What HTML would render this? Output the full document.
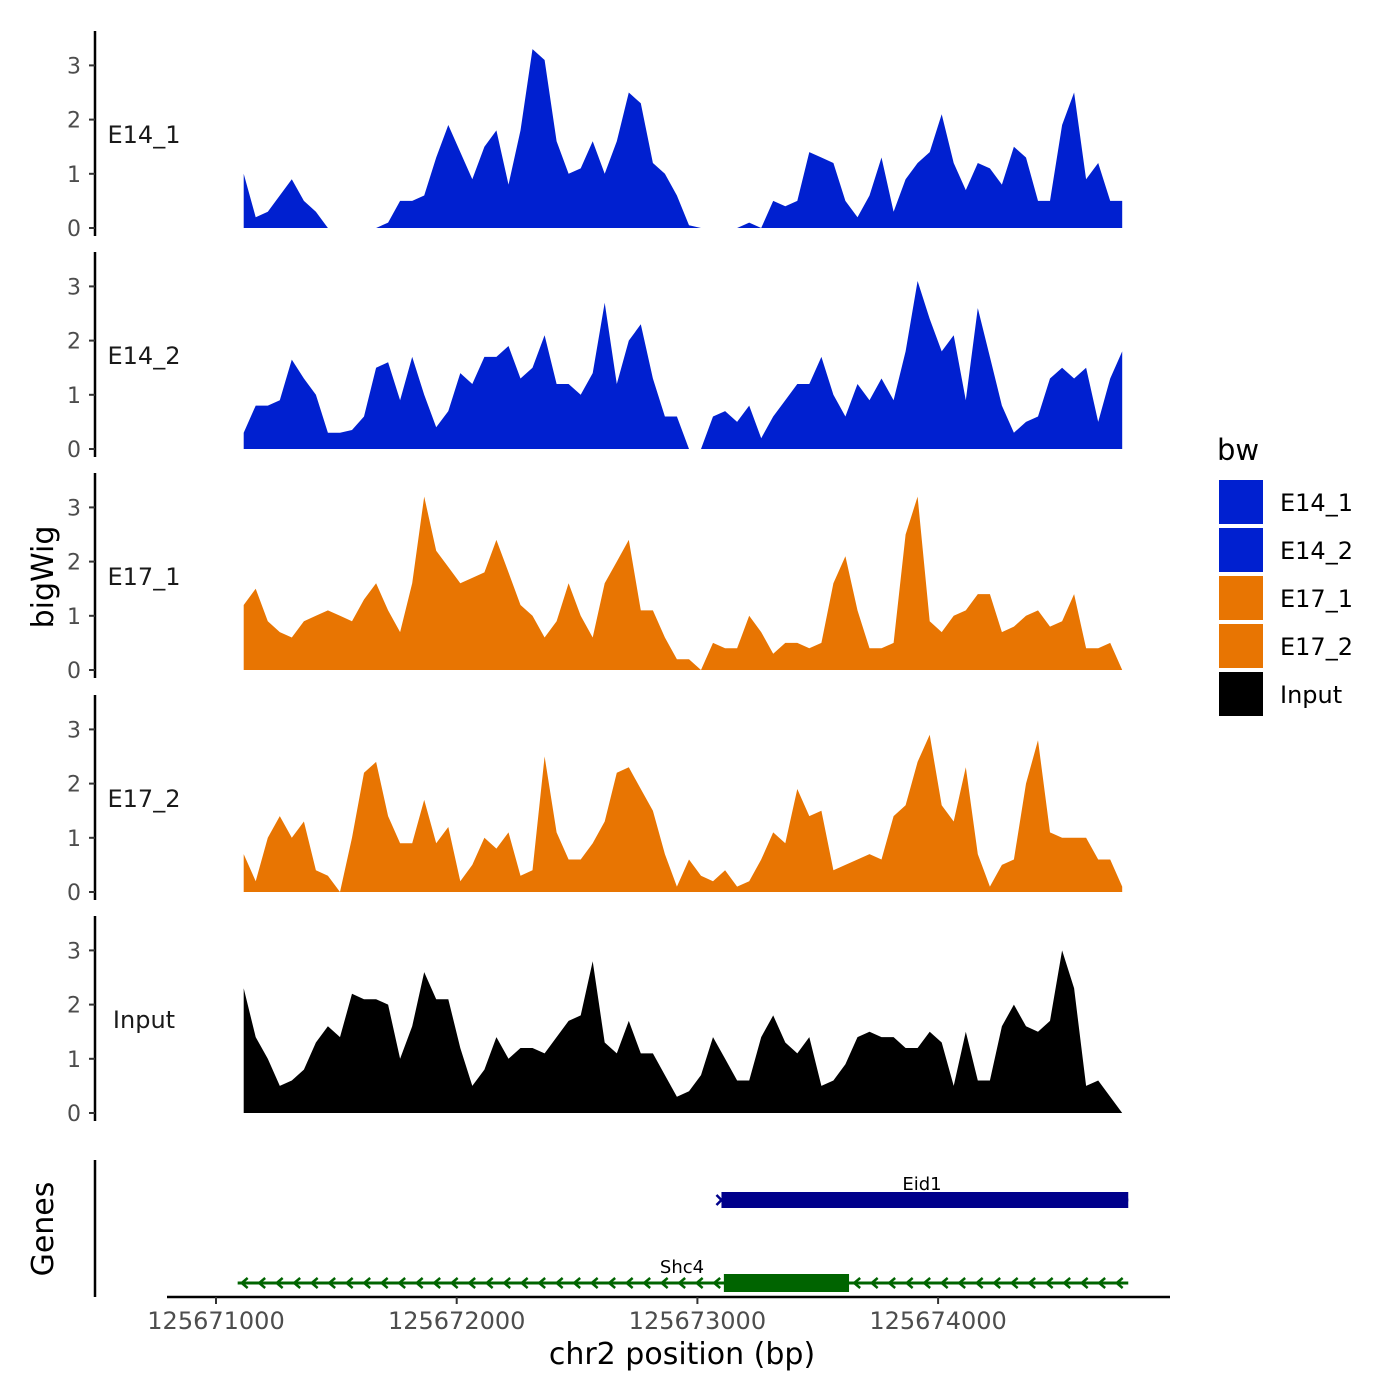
<!DOCTYPE html>
<html><head><meta charset="utf-8"><style>
html,body{margin:0;padding:0;background:#fff;}
svg{display:block;font-family:"DejaVu Sans","Liberation Sans",sans-serif;}
</style></head><body>
<svg id="chart" width="1400" height="1400" viewBox="0 0 1400 1400"></svg>
<script>
const trackNames = ["E14_1","E14_2","E17_1","E17_2","Input"];
const trackColors = ["#0020d0","#0020d0","#e87502","#e87502","#000000"];
const startBp = 125671115;
const stepBp = 50;
const e14_1 = [1.0,0.2,0.3,0.6,0.9,0.5,0.3,0,0,0,0,0,0.1,0.5,0.5,0.6,1.3,1.9,1.4,0.9,1.5,1.8,0.8,1.8,3.3,3.1,1.6,1.0,1.1,1.6,1.0,1.6,2.5,2.3,1.2,1.0,0.6,0.05,0,0,0,0,0.1,0,0.5,0.4,0.5,1.4,1.3,1.2,0.5,0.2,0.6,1.3,0.3,0.9,1.2,1.4,2.1,1.2,0.7,1.2,1.1,0.8,1.5,1.3,0.5,0.5,1.9,2.5,0.9,1.2,0.5,0.5];
const e14_2 = [0.3,0.8,0.8,0.9,1.65,1.3,1.0,0.3,0.3,0.35,0.6,1.5,1.6,0.9,1.7,1.0,0.4,0.7,1.4,1.2,1.7,1.7,1.9,1.3,1.5,2.1,1.2,1.2,1.0,1.4,2.7,1.2,2.0,2.3,1.3,0.6,0.6,0,0,0.6,0.7,0.5,0.8,0.2,0.6,0.9,1.2,1.2,1.7,1.0,0.6,1.2,0.9,1.3,0.9,1.8,3.1,2.4,1.8,2.1,0.9,2.6,1.7,0.8,0.3,0.5,0.6,1.3,1.5,1.3,1.5,0.5,1.3,1.8];
const e17_1 = [1.2,1.5,0.9,0.7,0.6,0.9,1.0,1.1,1.0,0.9,1.3,1.6,1.1,0.7,1.6,3.2,2.2,1.9,1.6,1.7,1.8,2.4,1.8,1.2,1.0,0.6,0.9,1.6,1.0,0.6,1.6,2.0,2.4,1.1,1.1,0.6,0.2,0.2,0,0.5,0.4,0.4,1.0,0.7,0.3,0.5,0.5,0.4,0.5,1.6,2.1,1.1,0.4,0.4,0.5,2.5,3.2,0.9,0.7,1.0,1.1,1.4,1.4,0.7,0.8,1.0,1.1,0.8,0.9,1.4,0.4,0.4,0.5,0];
const e17_2 = [0.7,0.2,1.0,1.4,1.0,1.3,0.4,0.3,0,1.0,2.2,2.4,1.4,0.9,0.9,1.7,0.9,1.2,0.2,0.5,1.0,0.8,1.1,0.3,0.4,2.5,1.1,0.6,0.6,0.9,1.3,2.2,2.3,1.9,1.5,0.7,0.1,0.6,0.3,0.2,0.4,0.1,0.2,0.6,1.1,0.9,1.9,1.4,1.5,0.4,0.5,0.6,0.7,0.6,1.4,1.6,2.4,2.9,1.6,1.3,2.3,0.7,0.1,0.5,0.6,2.0,2.8,1.1,1.0,1.0,1.0,0.6,0.6,0.1];
const input = [2.3,1.4,1.0,0.5,0.6,0.8,1.3,1.6,1.4,2.2,2.1,2.1,2.0,1.0,1.6,2.6,2.1,2.1,1.2,0.5,0.8,1.4,1.0,1.2,1.2,1.1,1.4,1.7,1.8,2.8,1.3,1.1,1.7,1.1,1.1,0.7,0.3,0.4,0.7,1.4,1.0,0.6,0.6,1.4,1.8,1.3,1.1,1.4,0.5,0.6,0.9,1.4,1.5,1.4,1.4,1.2,1.2,1.5,1.3,0.5,1.5,0.6,0.6,1.6,2.0,1.6,1.5,1.7,3.0,2.3,0.5,0.6,0.3,0];
const series = [e14_1,e14_2,e17_1,e17_2,input];
const yTicks = [0,1,2,3];
const xTicks = [125671000,125672000,125673000,125674000];
const genes = ["Eid1","Shc4"];
const geneStart = [125673100,125671090];
const geneEnd = [125674790,125674790];
const cdsStart = [125673100,125673110];
const cdsEnd = [125674790,125673630];

const NS="http://www.w3.org/2000/svg";
const svg=document.getElementById('chart');
function mk(tag,attrs,parent){const e=document.createElementNS(NS,tag);for(const k in attrs)e.setAttribute(k,attrs[k]);(parent||svg).appendChild(e);return e;}
const xs = bp => 216 + (bp-125671000)*0.24070;
const panelZero=[228,449,670,892,1113];
const yScale = 54.2;
const ys = (p,v) => panelZero[p] - v*yScale;

series.forEach((vals,p)=>{
  const g=mk('g',{});
  
  
  const ax=mk('line',{x1:95,x2:95,y1:panelZero[p]-197,y2:panelZero[p]+8,stroke:'#000','stroke-width':2.5},g);
  
  
  yTicks.forEach(t=>{
    mk('line',{x1:89,x2:95,y1:ys(p,t),y2:ys(p,t),stroke:'#333','stroke-width':2},g);
    const tl=mk('text',{x:81,y:ys(p,t)+8,'text-anchor':'end','font-size':22,fill:'#4d4d4d'},g);
    tl.textContent=t;
    
    
  });
  let d='M'+xs(startBp).toFixed(1)+','+panelZero[p];
  vals.forEach((v,i)=>{d+=' L'+xs(startBp+i*stepBp).toFixed(1)+','+ys(p,v).toFixed(1);});
  d+=' L'+xs(startBp+(vals.length-1)*stepBp).toFixed(1)+','+panelZero[p]+' Z';
  const area=mk('path',{d:d,fill:trackColors[p]},g);
  
  
  const lab=mk('text',{x:144,y:panelZero[p]-85,'text-anchor':'middle','font-size':24,fill:'#1a1a1a'},g);
  lab.textContent=trackNames[p];
  
  
});

const gaxis=mk('line',{x1:95,x2:95,y1:1160,y2:1297,stroke:'#000','stroke-width':2.5});


const geneY=[1200,1283];
const geneCol=['#00008b','#006400'];
genes.forEach((gn,i)=>{
  const g=mk('g',{});
  
  
  mk('line',{x1:xs(geneStart[i]),x2:xs(geneEnd[i]),y1:geneY[i],y2:geneY[i],stroke:geneCol[i],'stroke-width':3},g);
  if(i===1){
    for(let x=xs(geneStart[i])+4;x<xs(geneEnd[i])-5;x+=17.5){
      if(x>xs(cdsStart[i])-4 && x<xs(cdsEnd[i])) continue;
      mk('polyline',{points:(x+6)+','+(geneY[i]-5)+' '+x+','+geneY[i]+' '+(x+6)+','+(geneY[i]+5),fill:'none',stroke:geneCol[i],'stroke-width':2.5},g);
    }
  } else {
    const x0=xs(geneStart[i]);
    mk('polyline',{points:(x0-5)+','+(geneY[i]-5)+' '+x0+','+geneY[i]+' '+(x0-5)+','+(geneY[i]+5),fill:'none',stroke:geneCol[i],'stroke-width':2.5},g);
  }
  const h=i===0?16:18;
  mk('rect',{x:xs(cdsStart[i]),y:geneY[i]-h/2,width:xs(cdsEnd[i])-xs(cdsStart[i]),height:h,fill:geneCol[i]},g);
  const t=mk('text',{x:i===0?922:682,y:geneY[i]-10,'text-anchor':'middle','font-size':18,fill:'#000'},g);
  t.textContent=gn;
});

const xa=mk('line',{x1:167,x2:1170,y1:1297,y2:1297,stroke:'#000','stroke-width':2.5});


xTicks.forEach(t=>{
  mk('line',{x1:xs(t),x2:xs(t),y1:1297,y2:1304,stroke:'#333','stroke-width':2});
  const tl=mk('text',{x:xs(t),y:1329,'text-anchor':'middle','font-size':24,fill:'#4d4d4d'});
  tl.textContent=t;
  
  
});
const xt=mk('text',{x:682,y:1364,'text-anchor':'middle','font-size':30,fill:'#000'});
xt.textContent='chr2 position (bp)';


const yt=mk('text',{x:0,y:0,transform:'translate(53,577) rotate(-90)','text-anchor':'middle','font-size':30,fill:'#000'});
yt.textContent='bigWig';


const gt=mk('text',{x:0,y:0,transform:'translate(53,1229) rotate(-90)','text-anchor':'middle','font-size':30,fill:'#000'});
gt.textContent='Genes';



const lg=mk('g',{});


const ltitle=mk('text',{x:1217,y:460,'font-size':29,fill:'#000'},lg);
ltitle.textContent='bw';
trackNames.forEach((n,i)=>{
  const e=mk('g',{},lg);
  
  
  mk('rect',{x:1219,y:480+i*48,width:44,height:44,fill:trackColors[i]},e);
  const t=mk('text',{x:1280,y:511+i*48,'font-size':24,fill:'#000'},e);
  t.textContent=n;
});
</script>
</body></html>
